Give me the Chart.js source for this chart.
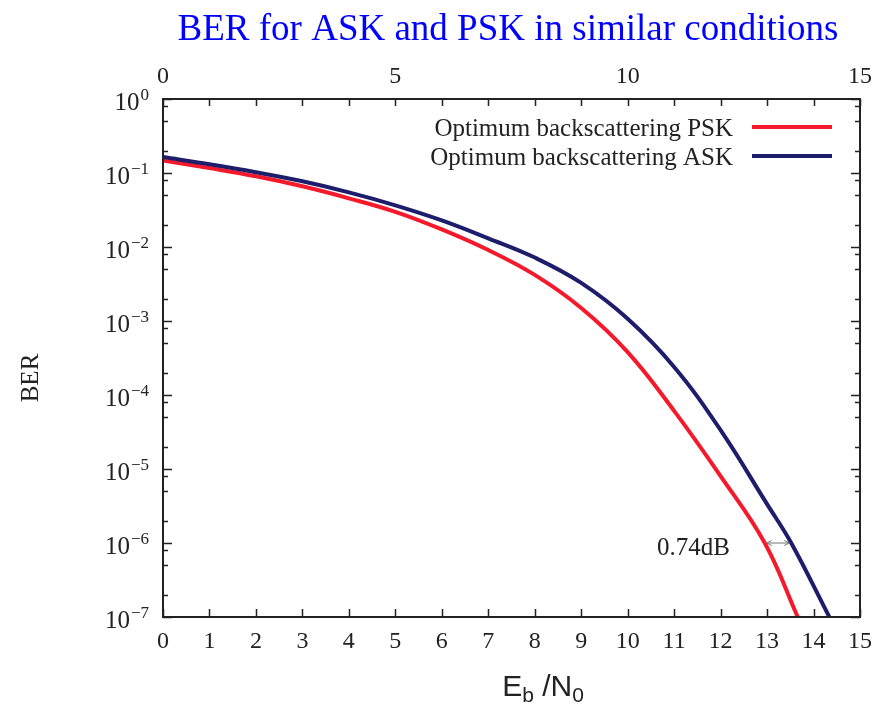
<!DOCTYPE html>
<html>
<head>
<meta charset="utf-8">
<script src="https://cdn.jsdelivr.net/npm/chart.js@4/dist/chart.umd.min.js"></script>
<style>
  html, body { margin: 0; padding: 0; background: #fff; }
  canvas { display: block; }
</style>
</head>
<body>
<canvas id="chart" width="882" height="706"></canvas>
<script>
// Eb/N0 (dB) sample points and bit error rates for each scheme
const ebN0Psk = [0, 1, 2, 3, 4, 5, 6, 7, 8, 9, 10, 11, 12, 12.95, 13.66];
const berPsk  = [0.1476, 0.1165, 0.0902, 0.0661, 0.0455, 0.0299, 0.0173, 0.0091, 0.0042, 0.0015, 3.8e-4, 6.1e-5, 8.0e-6, 1.0e-6, 1.0e-7];

const ebN0Ask = [0, 1, 2, 3, 4, 5, 6, 7, 8, 9, 10, 11, 12, 13, 13.52, 14.34];
const berAsk  = [0.1641, 0.1311, 0.1022, 0.0772, 0.0548, 0.0366, 0.0229, 0.0131, 0.0072, 0.00327, 1.07e-3, 2.39e-4, 3.35e-5, 3.35e-6, 1.0e-6, 1.0e-7];

const seriesLabels = ['Optimum backscattering PSK', 'Optimum backscattering ASK'];
const chartTitle = 'BER for ASK and PSK in similar conditions';

// axis ticks
const xTicksBottom = [0, 1, 2, 3, 4, 5, 6, 7, 8, 9, 10, 11, 12, 13, 14, 15];
const xTicksTop = [0, 5, 10, 15];
const yExponents = [0, -1, -2, -3, -4, -5, -6, -7];
const yMinorMultipliers = [2, 5, 8];

// gap marker between the curves at BER = 1e-6
const gapLabel = '0.74dB';
const gapBer = 1e-6;
const gapFrom = 12.95;
const gapTo = 13.52;

const RED = '#f41a2c';
const NAVY = '#1d1d6c';
const INK = '#222';
const SERIF = '"Liberation Serif", "Times New Roman", serif';
const SANS = '"Liberation Sans", Arial, sans-serif';

const toPoints = (xs, ys) => xs.map((x, i) => ({ x, y: ys[i] }));

const decor = {
  id: 'decor',
  afterDraw(chart) {
    const { ctx, chartArea: a, scales } = chart;
    const xs = scales.x, ys = scales.y;
    ctx.save();

    // title
    ctx.fillStyle = '#0000ff';
    ctx.font = '37px ' + SERIF;
    ctx.textAlign = 'center';
    ctx.textBaseline = 'alphabetic';
    ctx.fillText(chartTitle, 508, 40);

    // frame
    ctx.strokeStyle = INK;
    ctx.lineWidth = 2;
    ctx.strokeRect(a.left, a.top, a.right - a.left, a.bottom - a.top);

    // x ticks (inward), bottom and top
    ctx.lineWidth = 1.5;
    ctx.beginPath();
    xTicksBottom.forEach(v => {
      const px = Math.round(xs.getPixelForValue(v)) + 0.5;
      ctx.moveTo(px, a.bottom); ctx.lineTo(px, a.bottom - 8);
      ctx.moveTo(px, a.top); ctx.lineTo(px, a.top + 7);
    });
    // y ticks (inward), left and right
    yExponents.forEach(e => {
      const py = Math.round(ys.getPixelForValue(Math.pow(10, e))) + 0.5;
      ctx.moveTo(a.left, py); ctx.lineTo(a.left + 9, py);
      ctx.moveTo(a.right, py); ctx.lineTo(a.right - 9, py);
    });
    for (let e = -7; e < 0; e++) {
      yMinorMultipliers.forEach(m => {
        const py = Math.round(ys.getPixelForValue(m * Math.pow(10, e))) + 0.5;
        ctx.moveTo(a.left, py); ctx.lineTo(a.left + 5, py);
        ctx.moveTo(a.right, py); ctx.lineTo(a.right - 5, py);
      });
    }
    ctx.stroke();

    // y tick labels: 10 with a raised exponent
    ctx.fillStyle = INK;
    ctx.textBaseline = 'alphabetic';
    yExponents.forEach(e => {
      const py = ys.getPixelForValue(Math.pow(10, e));
      const sup = e === 0 ? '0' : '\u2212' + Math.abs(e);
      ctx.font = '17px ' + SERIF;
      const wSup = ctx.measureText(sup).width;
      ctx.font = '25px ' + SERIF;
      const wBase = ctx.measureText('10').width;
      const right = 149;
      ctx.textAlign = 'left';
      ctx.fillText('10', right - wSup - wBase - 1, py + 11);
      ctx.font = '17px ' + SERIF;
      ctx.fillText(sup, right - wSup, py + 1);
    });

    // y axis title
    ctx.save();
    ctx.translate(38, 378);
    ctx.rotate(-Math.PI / 2);
    ctx.font = '25px ' + SERIF;
    ctx.textAlign = 'center';
    ctx.textBaseline = 'alphabetic';
    ctx.fillText('BER', 0, 0);
    ctx.restore();

    // x axis title: E_b /N_0
    const parts = [
      { t: 'E', f: '30px ' + SANS, dy: 0 },
      { t: 'b', f: '21px ' + SANS, dy: 6 },
      { t: ' /N', f: '30px ' + SANS, dy: 0 },
      { t: '0', f: '21px ' + SANS, dy: 6 }
    ];
    let total = 0;
    parts.forEach(p => { ctx.font = p.f; p.w = ctx.measureText(p.t).width; total += p.w; });
    let cx = 543 - total / 2;
    const base = 696;
    ctx.textAlign = 'left';
    parts.forEach(p => { ctx.font = p.f; ctx.fillText(p.t, cx, base + p.dy); cx += p.w; });

    // legend
    ctx.font = '25px ' + SERIF;
    ctx.textAlign = 'right';
    ctx.textBaseline = 'middle';
    const legendRows = [
      { label: chart.data.datasets[0].label, color: RED, y: 128 },
      { label: chart.data.datasets[1].label, color: NAVY, y: 157 }
    ];
    legendRows.forEach(r => {
      ctx.fillStyle = INK;
      ctx.fillText(r.label, 733, r.y + 1);
      ctx.strokeStyle = r.color;
      ctx.lineWidth = 4;
      ctx.beginPath();
      ctx.moveTo(752, r.y - 1); ctx.lineTo(832, r.y - 1);
      ctx.stroke();
    });

    // gap marker
    const gy = ys.getPixelForValue(gapBer);
    const gx1 = xs.getPixelForValue(gapFrom) + 2;
    const gx2 = xs.getPixelForValue(gapTo) - 2;
    ctx.strokeStyle = '#777';
    ctx.lineWidth = 1;
    ctx.beginPath();
    ctx.moveTo(gx1, gy); ctx.lineTo(gx2, gy);
    ctx.moveTo(gx1 + 5, gy - 2.5); ctx.lineTo(gx1, gy); ctx.lineTo(gx1 + 5, gy + 2.5);
    ctx.moveTo(gx2 - 5, gy - 2.5); ctx.lineTo(gx2, gy); ctx.lineTo(gx2 - 5, gy + 2.5);
    ctx.stroke();
    ctx.fillStyle = INK;
    ctx.font = '25px ' + SERIF;
    ctx.textAlign = 'left';
    ctx.textBaseline = 'alphabetic';
    ctx.fillText(gapLabel, 657, gy + 12);

    ctx.restore();
  }
};

new Chart(document.getElementById('chart').getContext('2d'), {
  type: 'line',
  data: {
    datasets: [
      {
        label: seriesLabels[0],
        data: toPoints(ebN0Psk, berPsk),
        borderColor: RED,
        borderWidth: 4,
        pointRadius: 0,
        tension: 0.4,
        fill: false,
        order: 1
      },
      {
        label: seriesLabels[1],
        data: toPoints(ebN0Ask, berAsk),
        borderColor: NAVY,
        borderWidth: 4,
        pointRadius: 0,
        tension: 0.4,
        fill: false,
        order: 0
      }
    ]
  },
  options: {
    responsive: false,
    devicePixelRatio: 1,
    animation: false,
    events: [],
    layout: { padding: { left: 0, right: 18, top: 0, bottom: 0 } },
    plugins: {
      legend: { display: false },
      tooltip: { enabled: false },
      title: { display: false }
    },
    scales: {
      x: {
        type: 'linear',
        position: 'bottom',
        min: 0, max: 15,
        grid: { display: false, drawTicks: false },
        border: { display: false },
        afterBuildTicks: s => { s.ticks = xTicksBottom.map(v => ({ value: v })); },
        ticks: {
          autoSkip: false, maxRotation: 0, color: INK, padding: 10,
          font: { family: SERIF, size: 24 }
        },
        afterFit: s => { s.height = 89; }
      },
      xTop: {
        type: 'linear',
        position: 'top',
        min: 0, max: 15,
        grid: { display: false, drawTicks: false },
        border: { display: false },
        afterBuildTicks: s => { s.ticks = xTicksTop.map(v => ({ value: v })); },
        ticks: {
          autoSkip: false, maxRotation: 0, color: INK, padding: 8,
          font: { family: SERIF, size: 24 }
        },
        afterFit: s => { s.height = 99; }
      },
      y: {
        type: 'logarithmic',
        position: 'left',
        min: 1e-7, max: 1,
        grid: { display: false, drawTicks: false },
        border: { display: false },
        ticks: { display: false },
        afterFit: s => { s.width = 163; }
      }
    }
  },
  plugins: [decor]
});
</script>
</body>
</html>
